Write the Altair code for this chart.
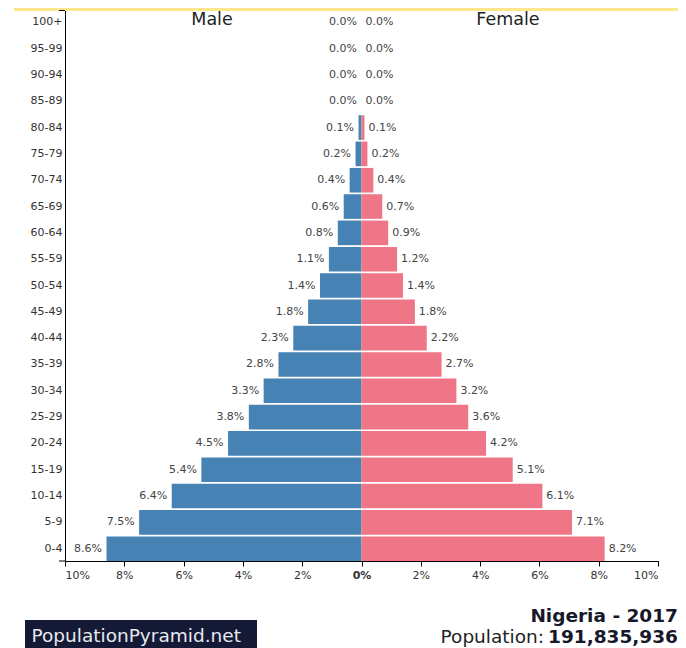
import altair as alt
import pandas as pd

ages = ["0-4", "5-9", "10-14", "15-19", "20-24", "25-29", "30-34", "35-39",
        "40-44", "45-49", "50-54", "55-59", "60-64", "65-69", "70-74", "75-79",
        "80-84", "85-89", "90-94", "95-99", "100+"]
male = [8.6, 7.5, 6.4, 5.4, 4.5, 3.8, 3.3, 2.8, 2.3, 1.8, 1.4, 1.1, 0.8, 0.6,
        0.4, 0.2, 0.1, 0.0, 0.0, 0.0, 0.0]
female = [8.2, 7.1, 6.1, 5.1, 4.2, 3.6, 3.2, 2.7, 2.2, 1.8, 1.4, 1.2, 0.9, 0.7,
          0.4, 0.2, 0.1, 0.0, 0.0, 0.0, 0.0]
x_ticks = [-10, -8, -6, -4, -2, 0, 2, 4, 6, 8, 10]
sex_names = ["Male", "Female"]
country_title = "Nigeria - 2017"
pop_prefix = "Population:"
pop_value = "191,835,936"
brand = "PopulationPyramid.net"

BLUE = "#4682b4"
PINK = "#ee7686"
FONT = "DejaVu Sans"

rows = []
for a, m, f in zip(ages, male, female):
    rows.append({"age": a, "sex": "Male", "value": -m, "label": f"{m:.1f}%"})
    rows.append({"age": a, "sex": "Female", "value": f, "label": f"{f:.1f}%"})
df = pd.DataFrame(rows)

y_enc = alt.Y("age:N", sort=list(reversed(ages)),
              scale=alt.Scale(paddingInner=0.065, paddingOuter=0),
              axis=alt.Axis(title=None, ticks=False, domainColor="#000",
                            labelPadding=3, labelFontSize=11, labelColor="#333",
                            labelFont=FONT))
x_enc = alt.X("value:Q", scale=alt.Scale(domain=[-10, 10], nice=False),
              axis=alt.Axis(values=x_ticks, labelExpr="abs(datum.value) + '%'",
                            title=None, grid=False, domainColor="#000",
                            tickColor="#000", tickSize=5, labelPadding=3,
                            labelFontSize=11, labelColor="#333", labelFont=FONT,
                            labelFontWeight={"condition": {"test": "datum.value == 0", "value": "bold"},
                                             "value": "normal"}))

base = alt.Chart(df)
bars = base.mark_bar().encode(
    x=x_enc, y=y_enc,
    color=alt.Color("sex:N", scale=alt.Scale(domain=sex_names, range=[BLUE, PINK]), legend=None),
)
male_lbl = base.transform_filter("datum.sex == 'Male'").mark_text(
    align="right", baseline="middle", dx=-4.5, fontSize=11, font=FONT, color="#444"
).encode(x="value:Q", y=alt.Y("age:N", sort=list(reversed(ages))), text="label:N")
female_lbl = base.transform_filter("datum.sex == 'Female'").mark_text(
    align="left", baseline="middle", dx=4, fontSize=11, font=FONT, color="#444"
).encode(x="value:Q", y=alt.Y("age:N", sort=list(reversed(ages))), text="label:N")

one = pd.DataFrame({"k": [0]})

male_title = alt.Chart(pd.DataFrame({"t": [sex_names[0]]})).mark_text(
    align="center", baseline="alphabetic", fontSize=17.5, font=FONT, color="#222"
).encode(x=alt.value(147), y=alt.value(14.5), text="t:N")
female_title = alt.Chart(pd.DataFrame({"t": [sex_names[1]]})).mark_text(
    align="center", baseline="alphabetic", fontSize=17.5, font=FONT, color="#222"
).encode(x=alt.value(443), y=alt.value(14.5), text="t:N")

outer_top = alt.Chart(one).mark_rule(color="#000", strokeWidth=1).encode(
    x=alt.value(-6), x2=alt.value(0), y=alt.value(0.5))
outer_bot = alt.Chart(one).mark_rule(color="#000", strokeWidth=1).encode(
    x=alt.value(-6), x2=alt.value(0), y=alt.value(551))

band = alt.Chart(one).mark_rect(color="#fde68c").encode(
    x=alt.value(-51), x2=alt.value(613), y=alt.value(-2), y2=alt.value(1))

country = alt.Chart(pd.DataFrame({"t": [country_title]})).mark_text(
    align="right", baseline="alphabetic", fontSize=18.5, font=FONT,
    fontWeight="bold", color="#16182b"
).encode(x=alt.value(613), y=alt.value(611.5), text="t:N")
pop_num = alt.Chart(pd.DataFrame({"t": [pop_value]})).mark_text(
    align="right", baseline="alphabetic", fontSize=18.5, font=FONT,
    fontWeight="bold", color="#16182b"
).encode(x=alt.value(613), y=alt.value(633), text="t:N")
pop_pre = alt.Chart(pd.DataFrame({"t": [pop_prefix]})).mark_text(
    align="right", baseline="alphabetic", fontSize=18.5, font=FONT, color="#222"
).encode(x=alt.value(479), y=alt.value(633), text="t:N")

logo_box = alt.Chart(one).mark_rect(color="#141a35").encode(
    x=alt.value(-40), x2=alt.value(192), y=alt.value(610), y2=alt.value(650))
logo_txt = alt.Chart(pd.DataFrame({"t": [brand]})).mark_text(
    align="left", baseline="alphabetic", fontSize=18.5, font=FONT, color="#e8e9f0"
).encode(x=alt.value(-33.5), y=alt.value(632), text="t:N")

chart = alt.layer(
    band, bars, male_lbl, female_lbl, male_title, female_title, outer_top, outer_bot,
    country, pop_num, pop_pre, logo_box, logo_txt
).properties(
    width=593, height=551,
    padding={"left": 57, "top": 2, "right": 20, "bottom": 87},
    autosize=alt.AutoSizeParams(type="none"),
).configure_view(stroke=None)

chart.save("out.html", embed_options={"renderer": "svg", "actions": False})
